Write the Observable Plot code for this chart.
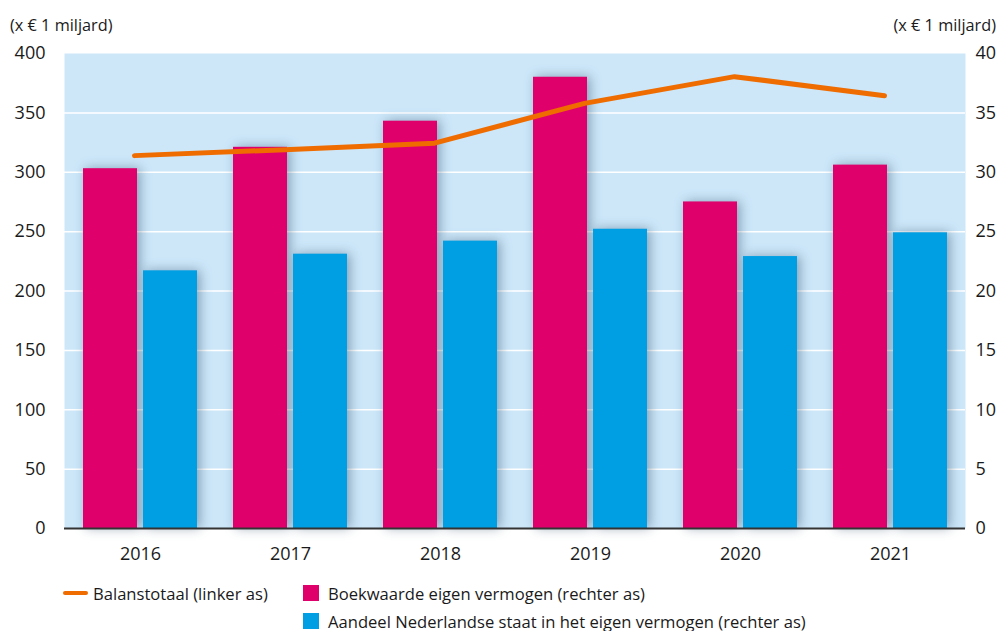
<!DOCTYPE html>
<html><head><meta charset="utf-8">
<script src="https://cdn.jsdelivr.net/npm/d3@7"></script>
<script src="https://cdn.jsdelivr.net/npm/@observablehq/plot@0.6"></script>
<style>
body{margin:0;background:#fff;font-family:"Open Sans",sans-serif;color:#1a1a1a;}
#wrap{width:1001px;position:relative;}
.hdr{display:flex;justify-content:space-between;height:45px;font-size:16.3px;line-height:20px;padding:15px 5px 0 10px;box-sizing:border-box;}
#chart svg{display:block;}
#chart svg [aria-label="bar"] rect{filter:drop-shadow(3px 0px 6px rgba(40,70,100,0.45));}
.legend{position:relative;height:63px;font-size:16.6px;}
.item{position:absolute;display:flex;align-items:center;height:22px;white-space:nowrap;}
.ln{display:inline-block;width:25px;height:4px;border-radius:2px;background:#ef6c00;margin-right:5px;}
.sq{display:inline-block;width:16px;height:16px;margin-right:9px;}
</style></head>
<body>
<div id="wrap">
  <div class="hdr"><span>(x € 1 miljard)</span><span>(x € 1 miljard)</span></div>
  <div id="chart"></div>
  <div class="legend" id="legend"></div>
</div>
<script>
const years = ["2016","2017","2018","2019","2020","2021"];
const balanstotaal = [314, 319, 324.5, 358, 380.5, 364.5];   // linker as
const boekwaarde = [30.3, 32.1, 34.3, 38.0, 27.5, 30.6];      // rechter as
const aandeel = [21.7, 23.1, 24.2, 25.2, 22.9, 24.9];         // rechter as
const leftTicks = [0, 50, 100, 150, 200, 250, 300, 350, 400];
const rightTicks = [0, 5, 10, 15, 20, 25, 30, 35, 40];
const seriesNames = ["Balanstotaal (linker as)", "Boekwaarde eigen vermogen (rechter as)", "Aandeel Nederlandse staat in het eigen vermogen (rechter as)"];
const colors = ["#ef6c00", "#e0006b", "#009fe3"];
const ratio = 10; // left axis / right axis

const rows = years.map((year, i) => ({year, bal: balanstotaal[i], boek: boekwaarde[i], aan: aandeel[i]}));

const chart = Plot.plot({
  width: 1001, height: 523,
  marginLeft: 64, marginRight: 36, marginTop: 8, marginBottom: 40,
  x: {domain: years, paddingInner: 0.24, paddingOuter: 0.12, label: null},
  y: {domain: [0, 400], label: null},
  style: {fontFamily: "'Open Sans', sans-serif", fontSize: "18px", color: "#1a1a1a", background: "transparent", overflow: "visible"},
  marks: [
    Plot.frame({fill: "#cde7f9", stroke: null}),
    Plot.gridY(leftTicks.filter(d => d > 0 && d < 400), {stroke: "white", strokeOpacity: 1, strokeWidth: 1.5}),
    Plot.barY(rows, {x: "year", y: d => d.boek * ratio, fill: colors[1], insetRight: 60}),
    Plot.barY(rows, {x: "year", y: d => d.aan * ratio, fill: colors[2], insetLeft: 60}),
    Plot.ruleY([0], {stroke: "#333", strokeWidth: 2}),
    Plot.line(rows, {x: "year", y: "bal", stroke: colors[0], strokeWidth: 5, dx: -6, strokeLinecap: "round", strokeLinejoin: "round"}),
    Plot.axisY(leftTicks, {anchor: "left", tickSize: 0, tickPadding: 19, label: null}),
    Plot.axisY(rightTicks.map(d => d * ratio), {anchor: "right", tickSize: 0, tickPadding: 10, tickFormat: d => String(d / ratio), label: null}),
    Plot.axisX({tickSize: 0, tickPadding: 19, label: null})
  ]
});
document.getElementById("chart").append(chart);

const leg = document.getElementById("legend");
const items = [
  {kind: "ln", left: 63, top: 14, i: 0},
  {kind: "sq", left: 303, top: 14, i: 1},
  {kind: "sq", left: 303, top: 42, i: 2}
];
for (const it of items) {
  const d = document.createElement("div");
  d.className = "item";
  d.style.left = it.left + "px";
  d.style.top = it.top + "px";
  const s = document.createElement("span");
  s.className = it.kind;
  s.style.background = colors[it.i];
  d.append(s, document.createTextNode(seriesNames[it.i]));
  leg.append(d);
}
</script>
</body></html>
